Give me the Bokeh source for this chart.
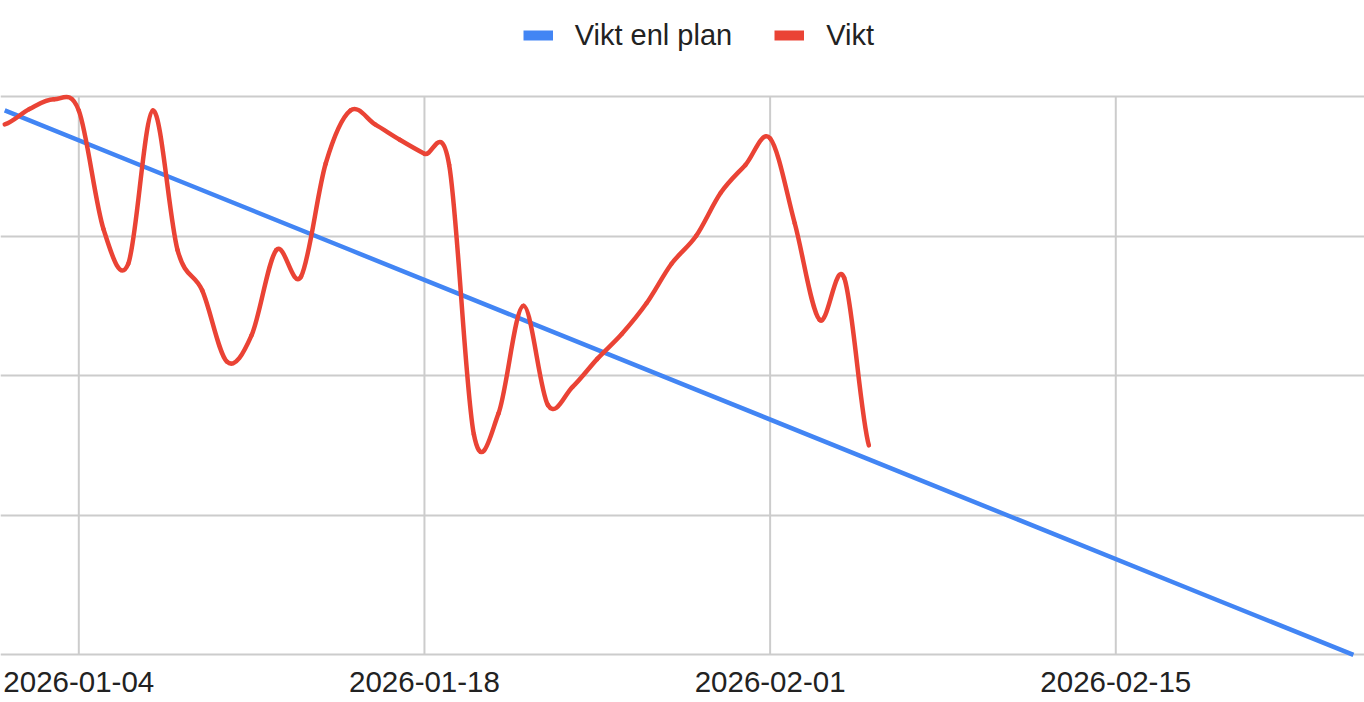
import numpy as np
from bokeh.plotting import figure
from bokeh.models import Range1d, FixedTicker, Legend, LegendItem, ColumnDataSource
from bokeh.core.properties import value
from bokeh.embed import file_html
from bokeh.resources import INLINE

# ---------------- data ----------------
series_names = ["Vikt enl plan", "Vikt"]

vikt_dates = [
    "2026-01-01", "2026-01-02", "2026-01-03", "2026-01-04", "2026-01-05", "2026-01-06",
    "2026-01-07", "2026-01-08", "2026-01-09", "2026-01-10", "2026-01-11", "2026-01-12",
    "2026-01-13", "2026-01-14", "2026-01-15", "2026-01-16", "2026-01-17", "2026-01-18",
    "2026-01-19", "2026-01-20", "2026-01-21", "2026-01-22", "2026-01-23", "2026-01-24",
    "2026-01-25", "2026-01-26", "2026-01-27", "2026-01-28", "2026-01-29", "2026-01-30",
    "2026-01-31", "2026-02-01", "2026-02-02", "2026-02-03", "2026-02-04", "2026-02-05",
]
vikt = [
    90.80, 90.91, 90.98, 90.90, 90.05, 89.80,
    90.90, 89.90, 89.61, 89.10, 89.29, 89.90,
    89.71, 90.52, 90.90, 90.80, 90.69, 90.59,
    90.51, 88.58, 88.73, 89.50, 88.79, 88.92,
    89.12, 89.30, 89.52, 89.80, 90.00, 90.31,
    90.51, 90.70, 90.09, 89.40, 89.70, 88.50,
]

plan_dates = ["2026-01-01", "2026-01-08", "2026-01-15", "2026-01-22", "2026-01-29",
              "2026-02-05", "2026-02-12", "2026-02-19", "2026-02-24T15:00"]
plan_vikt = [90.9, 90.4, 89.9, 89.4, 88.9, 88.4, 87.9, 87.4, 87.0]

tick_dates = ["2026-01-04", "2026-01-18", "2026-02-01", "2026-02-15"]
y_grid_values = [87, 88, 89, 90, 91]

# ---------------- styling / layout constants ----------------
BLUE = "#4285F4"
RED = "#EA4335"
GRID = "#cccccc"
TEXT = "#222222"
FONT = "Liberation Sans"
W, H = 1364, 702
PX_PER_DAY = 24.69          # horizontal scale
JAN1_PX = 4.23              # pixel of first date from left edge
PX_PER_KG = 139.575         # vertical scale
TOP_GRID_PX = 96.0          # pixel of top gridline from top edge
BASE_PX = 654.3             # pixel of baseline from top edge
DAY_MS = 86400000.0


def to_ms(ds):
    return np.array(ds, dtype="datetime64[ms]").astype("int64").astype(float)


vx = to_ms(vikt_dates)
vy = np.array(vikt, dtype=float)
px = to_ms(plan_dates)
py = np.array(plan_vikt, dtype=float)
ticks = to_ms(tick_dates)

x_start = vx[0] - (JAN1_PX / PX_PER_DAY) * DAY_MS
x_end = x_start + (W / PX_PER_DAY) * DAY_MS
y_top = y_grid_values[-1] + TOP_GRID_PX / PX_PER_KG
y_bot = y_grid_values[0] - (H - BASE_PX) / PX_PER_KG

p = figure(width=W, height=H, output_backend="svg", toolbar_location=None,
           x_range=Range1d(x_start, x_end), y_range=Range1d(y_bot, y_top),
           min_border=0)
p.outline_line_color = None
p.background_fill_color = "white"
p.border_fill_color = "white"
p.xaxis.visible = False
p.yaxis.visible = False
p.xgrid.visible = False
p.ygrid.ticker = FixedTicker(ticks=y_grid_values)
p.ygrid.grid_line_color = GRID
p.ygrid.grid_line_width = 2

# vertical gridlines (from baseline to top gridline)
p.segment(x0=ticks, y0=y_grid_values[0], x1=ticks, y1=y_grid_values[-1],
          line_color=GRID, line_width=2)

# x tick labels
p.text(x=ticks, y=y_grid_values[0], text=tick_dates, text_align="center",
       text_baseline="alphabetic", y_offset=27, text_font=value(FONT),
       text_font_size="29.5px", text_color=TEXT)

# plan line
p.line(px, py, line_color=BLUE, line_width=4.5)

# smoothed actual weight (Catmull-Rom as cubic Bezier segments)
n = len(vx)
yext = np.concatenate([[vy[0]], vy, [vy[-1]]])
x0, x1 = vx[:-1], vx[1:]
y0, y1 = vy[:-1], vy[1:]
cx0 = x0 + (x1 - x0) / 3.0
cx1 = x1 - (x1 - x0) / 3.0
cy0 = y0 + (yext[2:n + 1] - yext[0:n - 1]) / 6.0
cy1 = y1 - (yext[3:n + 2] - yext[1:n]) / 6.0
src = ColumnDataSource(dict(x0=x0, y0=y0, x1=x1, y1=y1, cx0=cx0, cy0=cy0, cx1=cx1, cy1=cy1))
p.bezier(x0="x0", y0="y0", x1="x1", y1="y1", cx0="cx0", cy0="cy0", cx1="cx1", cy1="cy1",
         source=src, line_color=RED, line_width=4.5, line_cap="round")

# legend swatches (renderers with a single undrawn point)
d_plan = p.line([np.nan, np.nan], [np.nan, np.nan], line_color=BLUE, line_width=10)
d_vikt = p.line([np.nan, np.nan], [np.nan, np.nan], line_color=RED, line_width=10)
legend = Legend(items=[LegendItem(label=series_names[0], renderers=[d_plan]),
                       LegendItem(label=series_names[1], renderers=[d_vikt])],
                orientation="horizontal", location=(522.7, H - 52.3),
                glyph_width=30, glyph_height=34, label_height=34,
                label_standoff=22, spacing=42, padding=0, margin=0,
                border_line_color=None, background_fill_alpha=0,
                label_text_font=FONT, label_text_font_size="29px",
                label_text_color=TEXT)
p.add_layout(legend, "center")

open("out.html", "w").write(file_html(p, INLINE))
